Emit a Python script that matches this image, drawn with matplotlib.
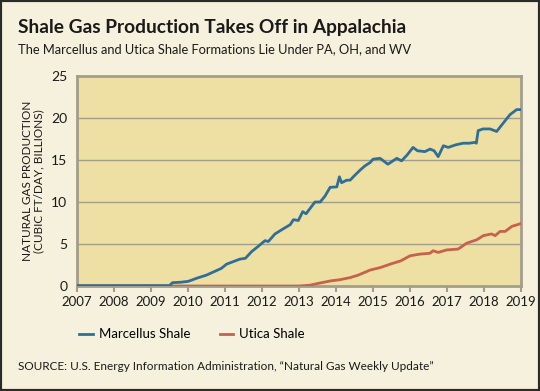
import matplotlib
matplotlib.use('Agg')
import matplotlib.pyplot as plt
from matplotlib.patches import Rectangle

# Marcellus Shale (billion cubic ft/day)
marcellus_year = [2007.0, 2008.0, 2009.0, 2009.5, 2009.58, 2009.8, 2010.0, 2010.25, 2010.5,
                  2010.75, 2010.9, 2011.04, 2011.22, 2011.4, 2011.55, 2011.72, 2011.89,
                  2012.08, 2012.17, 2012.35, 2012.57, 2012.76, 2012.85, 2012.98, 2013.1,
                  2013.19, 2013.3, 2013.43, 2013.57, 2013.7, 2013.84, 2014.02, 2014.09,
                  2014.15, 2014.29, 2014.38, 2014.51, 2014.65, 2014.78, 2014.92, 2015.0,
                  2015.19, 2015.4, 2015.64, 2015.77, 2015.92, 2016.08, 2016.2, 2016.4,
                  2016.54, 2016.65, 2016.76, 2016.9, 2017.03, 2017.23, 2017.43, 2017.6,
                  2017.75, 2017.79, 2017.84, 2017.97, 2018.16, 2018.34, 2018.5, 2018.7,
                  2018.88, 2019.0]
marcellus = [0.05, 0.05, 0.05, 0.05, 0.4, 0.45, 0.55, 0.95, 1.3,
             1.8, 2.1, 2.6, 2.9, 3.2, 3.3, 4.1, 4.7,
             5.4, 5.3, 6.2, 6.8, 7.3, 7.9, 7.8, 8.85,
             8.6, 9.25, 10.0, 10.0, 10.7, 11.75, 11.8, 13.0,
             12.3, 12.6, 12.6, 13.2, 13.8, 14.3, 14.7, 15.1,
             15.2, 14.5, 15.2, 14.9, 15.6, 16.5, 16.1, 16.0,
             16.3, 16.1, 15.4, 16.7, 16.5, 16.8, 17.0, 17.0,
             17.1, 17.0, 18.5, 18.7, 18.7, 18.4, 19.3, 20.4,
             21.0, 21.0]

# Utica Shale
utica_year = [2007.0, 2013.0, 2013.3, 2013.5, 2013.84, 2014.1, 2014.38, 2014.6, 2014.92,
              2015.2, 2015.46, 2015.75, 2016.0, 2016.27, 2016.54, 2016.62, 2016.76,
              2016.99, 2017.3, 2017.53, 2017.8, 2017.98, 2018.2, 2018.3, 2018.43,
              2018.57, 2018.75, 2018.97]
utica = [0.0, 0.0, 0.1, 0.3, 0.6, 0.75, 1.0, 1.3, 1.9,
         2.2, 2.6, 3.0, 3.6, 3.8, 3.9, 4.2, 4.0,
         4.3, 4.4, 5.1, 5.5, 6.0, 6.2, 6.0, 6.5,
         6.5, 7.1, 7.4]

years = list(range(2007, 2020))
yticks = [0, 5, 10, 15, 20, 25]

outer_bg = '#f6f1dd'
plot_bg = '#eedfa3'
frame = '#a39e8c'
blue = '#2f6f97'
red = '#c8614b'

plt.rcParams['font.family'] = ['Lato', 'DejaVu Sans']

fig = plt.figure(figsize=(5.4, 3.91), dpi=100, facecolor=outer_bg)
fig.patches.append(Rectangle((0, 0), 1, 1, transform=fig.transFigure, fill=False,
                             edgecolor='#2a2a2a', linewidth=3))

ax = fig.add_axes([0.1426, 0.2685, 0.8224, 0.5371])
ax.set_facecolor(plot_bg)

ax.plot(utica_year, utica, color=red, linewidth=2, label='Utica Shale', zorder=3)
ax.plot(marcellus_year, marcellus, color=blue, linewidth=2, label='Marcellus Shale', zorder=4)

ax.set_xlim(2007, 2019)
ax.set_ylim(0, 25)
ax.set_xticks(years)
ax.set_yticks(yticks)
ax.set_xticklabels([str(y) for y in years], fontsize=9.5, color='#1a1a1a')
ax.set_yticklabels([str(v) for v in yticks], fontsize=10, color='#1a1a1a')
ax.tick_params(axis='x', direction='out', length=4, width=1.5, color=frame, pad=3)
ax.tick_params(axis='y', length=0, pad=7)
for y in [5, 10, 15, 20]:
    ax.axhline(y, color=frame, linewidth=1, zorder=1)
for s in ax.spines.values():
    s.set_color(frame)
    s.set_linewidth(2)

ax.set_ylabel('NATURAL GAS PRODUCTION\n(CUBIC FT/DAY, BILLIONS)', fontsize=8.5,
              color='#1a1a1a', linespacing=1.05, labelpad=5)

fig.text(0.033, 0.915, 'Shale Gas Production Takes Off in Appalachia', fontsize=13.8,
         fontweight='bold', color='#1a1a1a', va='baseline')
fig.text(0.033, 0.863, 'The Marcellus and Utica Shale Formations Lie Under PA, OH, and WV',
         fontsize=9.3, color='#1a1a1a', va='baseline')

handles, labels = ax.get_legend_handles_labels()
fig.legend(handles[::-1], labels[::-1], loc='center left', bbox_to_anchor=(0.125, 0.145),
           ncol=2, frameon=False, fontsize=9.5, handlelength=1.0, columnspacing=2.2,
           handletextpad=0.5)

fig.text(0.033, 0.053, 'SOURCE: U.S. Energy Information Administration, \u201cNatural Gas Weekly Update\u201d',
         fontsize=8.5, color='#1a1a1a', va='baseline')

fig.savefig('out.png', dpi=100, facecolor=outer_bg)
